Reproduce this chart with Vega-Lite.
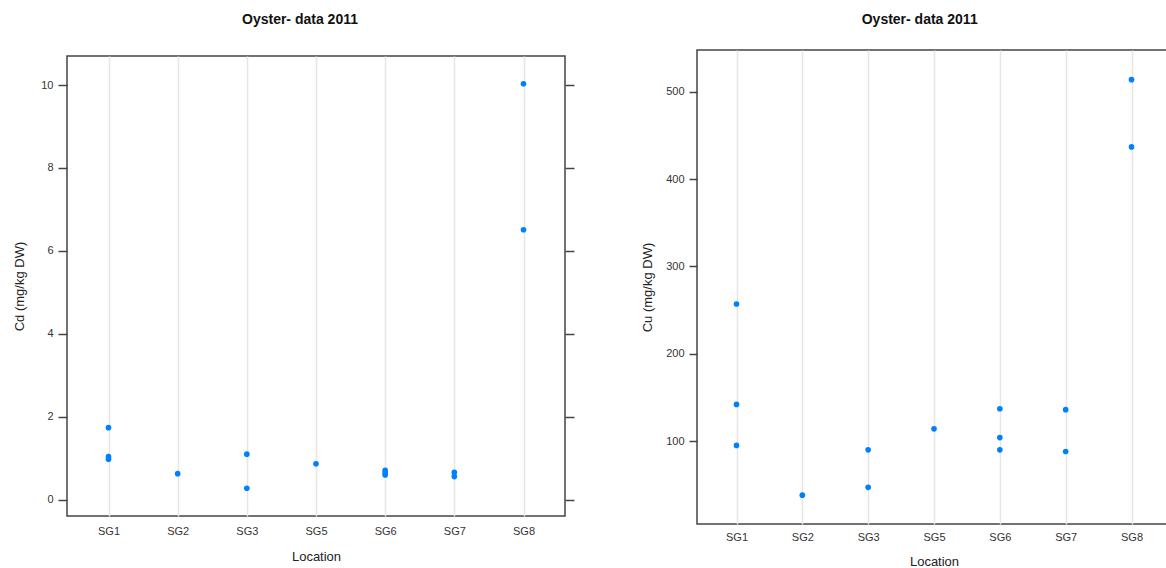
{
  "$schema": "https://vega.github.io/schema/vega-lite/v6.json",
  "padding": {"left": 13, "top": 12, "right": 0, "bottom": 0},
  "background": "white",
  "datasets": {
    "cd": [
      {"Location": "SG1", "Cd": 1.74},
      {"Location": "SG1", "Cd": 1.04},
      {"Location": "SG1", "Cd": 0.98},
      {"Location": "SG2", "Cd": 0.63},
      {"Location": "SG3", "Cd": 1.10},
      {"Location": "SG3", "Cd": 0.28},
      {"Location": "SG5", "Cd": 0.87},
      {"Location": "SG6", "Cd": 0.71},
      {"Location": "SG6", "Cd": 0.65},
      {"Location": "SG6", "Cd": 0.60},
      {"Location": "SG7", "Cd": 0.66},
      {"Location": "SG7", "Cd": 0.56},
      {"Location": "SG8", "Cd": 10.03},
      {"Location": "SG8", "Cd": 6.51}
    ],
    "cu": [
      {"Location": "SG1", "Cu": 257},
      {"Location": "SG1", "Cu": 142},
      {"Location": "SG1", "Cu": 95},
      {"Location": "SG2", "Cu": 38},
      {"Location": "SG3", "Cu": 90},
      {"Location": "SG3", "Cu": 47},
      {"Location": "SG5", "Cu": 114},
      {"Location": "SG6", "Cu": 137},
      {"Location": "SG6", "Cu": 104},
      {"Location": "SG6", "Cu": 90},
      {"Location": "SG7", "Cu": 136},
      {"Location": "SG7", "Cu": 88},
      {"Location": "SG8", "Cu": 514},
      {"Location": "SG8", "Cu": 437}
    ],
    "empty": []
  },
  "config": {
    "font": "Liberation Sans",
    "view": {"stroke": "#444444", "strokeWidth": 1.5},
    "axis": {
      "labelFont": "Liberation Sans",
      "titleFont": "Liberation Sans",
      "labelColor": "#333333",
      "titleColor": "#222222",
      "labelFontSize": 11,
      "titleFontSize": 13,
      "titleFontWeight": "normal",
      "domain": false,
      "tickColor": "#444444",
      "tickWidth": 1.5
    },
    "title": {"font": "Liberation Sans", "fontSize": 14, "fontWeight": "bold", "color": "#111111", "frame": "bounds"}
  },
  "hconcat": [
    {
      "spacing": 4,
      "vconcat": [
        {
          "title": {"text": "Oyster- data 2011", "offset": 23, "dx": -16},
          "width": 498,
          "height": 1,
          "view": {"stroke": null},
          "data": {"name": "empty"},
          "mark": {"type": "point", "opacity": 0},
          "encoding": {}
        },
        {
          "width": 498,
          "height": 460,
          "data": {"name": "cd"},
          "layer": [
            {
              "mark": {"type": "circle", "size": 32, "color": "#0080ff", "opacity": 1},
              "encoding": {
                "x": {"field": "Location", "type": "nominal", "sort": ["SG1","SG2","SG3","SG5","SG6","SG7","SG8"],
                      "scale": {"type": "point", "padding": 0.6},
                      "axis": {"title": "Location", "grid": true, "gridColor": "#e6e6e6", "gridWidth": 1.5, "ticks": false, "labelAngle": 0, "labelPadding": 9, "titlePadding": 14}},
                "y": {"field": "Cd", "type": "quantitative",
                      "scale": {"domain": [-0.39, 10.7], "nice": false, "zero": false},
                      "axis": {"title": "Cd (mg/kg DW)", "values": [0,2,4,6,8,10], "grid": false, "tickSize": 9, "labelPadding": 5, "titlePadding": 14}}
              }
            },
            {
              "mark": {"type": "circle", "size": 32, "color": "#0080ff", "opacity": 0},
              "encoding": {
                "y": {"field": "Cd", "type": "quantitative",
                      "scale": {"domain": [-0.39, 10.7], "nice": false, "zero": false},
                      "axis": {"orient": "right", "title": null, "labels": false, "values": [0,2,4,6,8,10], "grid": false, "tickSize": 9}}
              }
            }
          ],
          "resolve": {"axis": {"y": "independent"}}
        }
      ]
    },
    {
      "title": {"text": "Oyster- data 2011", "offset": 23, "dx": 9},
      "width": 474,
      "height": 474,
      "data": {"name": "cu"},
      "layer": [
        {
          "mark": {"type": "circle", "size": 32, "color": "#0080ff", "opacity": 1},
          "encoding": {
            "x": {"field": "Location", "type": "nominal", "sort": ["SG1","SG2","SG3","SG5","SG6","SG7","SG8"],
                  "scale": {"type": "point", "padding": 0.6},
                  "axis": {"title": "Location", "grid": true, "gridColor": "#e6e6e6", "gridWidth": 1.5, "ticks": false, "labelAngle": 0, "labelPadding": 7, "titlePadding": 13}},
            "y": {"field": "Cu", "type": "quantitative",
                  "scale": {"domain": [5, 548], "nice": false, "zero": false},
                  "axis": {"title": "Cu (mg/kg DW)", "values": [100,200,300,400,500], "grid": false, "tickSize": 8, "labelPadding": 5, "titlePadding": 11}}
          }
        },
        {
          "mark": {"type": "circle", "size": 32, "color": "#0080ff", "opacity": 0},
          "encoding": {
            "y": {"field": "Cu", "type": "quantitative",
                  "scale": {"domain": [5, 548], "nice": false, "zero": false},
                  "axis": {"orient": "right", "title": null, "labels": false, "values": [100,200,300,400,500], "grid": false, "tickSize": 8}}
          }
        }
      ],
      "resolve": {"axis": {"y": "independent"}}
    }
  ],
  "spacing": 64
}
